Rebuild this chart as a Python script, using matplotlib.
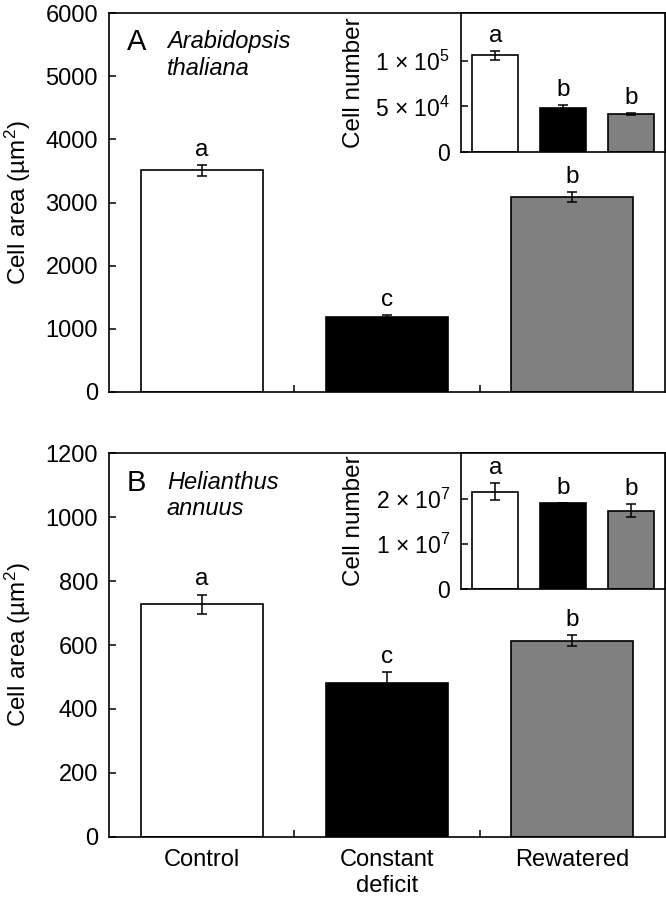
import matplotlib
matplotlib.use("Agg")
import matplotlib.pyplot as plt
from matplotlib.ticker import FixedLocator, FixedFormatter

plt.rcParams['font.family'] = ['Liberation Sans', 'DejaVu Sans']
plt.rcParams['mathtext.fontset'] = 'custom'
plt.rcParams['mathtext.rm'] = 'Liberation Sans'
plt.rcParams['mathtext.it'] = 'Liberation Sans:italic'

# data
treatments = ['Control', 'Constant\ndeficit', 'Rewatered']
colors = ['white', 'black', '#808080']

area_a = [3510, 1180, 3090]
area_a_err = [85, 35, 80]
area_a_sig = ['a', 'c', 'b']
num_a = [105700, 48800, 41900]
num_a_err = [4600, 3000, 1000]
num_a_sig = ['a', 'b', 'b']

area_b = [727, 482, 613]
area_b_err = [31, 32, 17]
area_b_sig = ['a', 'c', 'b']
num_b = [2.15e7, 1.91e7, 1.73e7]
num_b_err = [1.85e6, 0, 1.4e6]
num_b_sig = ['a', 'b', 'b']

W, H = 666, 899
fig = plt.figure(figsize=(W / 100, H / 100), dpi=100)


def box(l, t, r, b):
    return [l / W, 1 - b / H, (r - l) / W, (b - t) / H]


def draw_bars(ax, vals, errs, sigs, width, fs):
    x = range(len(vals))
    ax.bar(x, vals, width=width, color=colors, edgecolor='black', linewidth=1.2, zorder=2)
    ax.errorbar(x, vals, yerr=errs, fmt='none', ecolor='black', elinewidth=1.1,
                capsize=3.6, capthick=1.1, zorder=3)
    for xi, v, e, s in zip(x, vals, errs, sigs):
        ax.annotate(s, (xi, v + e), xytext=(0, 6.5), textcoords='offset points',
                    ha='center', va='baseline', fontsize=fs)
    ax.set_xlim(-0.5, len(vals) - 0.5)
    for sp in ax.spines.values():
        sp.set_linewidth(1.2)


def main_panel(rect, vals, errs, sigs, ymax, step, letter, species, xlabels):
    ax = fig.add_axes(rect)
    draw_bars(ax, vals, errs, sigs, 0.66, 17.5)
    ax.set_ylim(0, ymax)
    ax.yaxis.set_major_locator(FixedLocator(list(range(0, ymax + 1, step))))
    ax.tick_params(axis='y', direction='in', length=5, width=1.1, labelsize=17, pad=8)
    ax.set_xticks([0, 1, 2])
    ax.set_xticks([0.5, 1.5], minor=True)
    ax.tick_params(axis='x', which='major', length=0, labelsize=17, pad=9)
    ax.tick_params(axis='x', which='minor', direction='in', length=5, width=1.1)
    if xlabels:
        ax.set_xticklabels(treatments, linespacing=1.25)
    else:
        ax.set_xticklabels([])
    ax.set_ylabel('Cell area (µm$^{2}$)', fontsize=17.5)
    ax.yaxis.set_label_coords(-0.137, 0.5)
    ax.text(0.032, 0.96, letter, transform=ax.transAxes, fontsize=21, va='top', ha='left')
    ax.text(0.104, 0.955, species, transform=ax.transAxes, fontsize=17, va='top',
            ha='left', style='italic', linespacing=1.2)
    return ax


def inset_panel(rect, vals, errs, sigs, ymax, ticks, ticklabels):
    ax = fig.add_axes(rect)
    draw_bars(ax, vals, errs, sigs, 0.68, 17.5)
    ax.set_ylim(0, ymax)
    ax.yaxis.set_major_locator(FixedLocator(ticks))
    ax.yaxis.set_major_formatter(FixedFormatter(ticklabels))
    ax.tick_params(axis='y', direction='in', length=5, width=1.1, labelsize=16.5, pad=8)
    ax.set_xticks([])
    ax.set_ylabel('Cell number', fontsize=17.5)
    ax.yaxis.set_label_coords(-0.474, 0.5)
    ax.set_facecolor('white')
    return ax


main_panel(box(109, 13, 665, 392), area_a, area_a_err, area_a_sig, 6000, 1000,
           'A', 'Arabidopsis\nthaliana', False)
inset_panel(box(461.3, 13, 665, 152.3), num_a, num_a_err, num_a_sig, 1.52e5,
            [0, 5e4, 1e5], ['0', '5 × 10$^{4}$', '1 × 10$^{5}$'])

main_panel(box(109, 453.3, 665, 836.7), area_b, area_b_err, area_b_sig, 1200, 200,
           'B', 'Helianthus\nannuus', True)
inset_panel(box(461.3, 453.3, 665, 589), num_b, num_b_err, num_b_sig, 3.0e7,
            [0, 1e7, 2e7], ['0', '1 × 10$^{7}$', '2 × 10$^{7}$'])

fig.savefig('out.png', dpi=100)
